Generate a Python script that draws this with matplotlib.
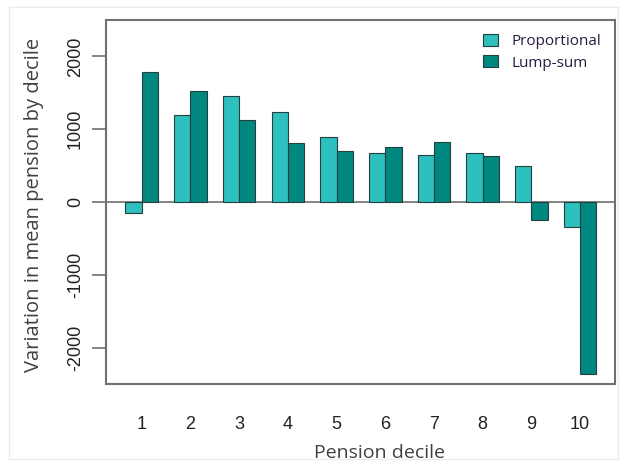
import numpy as np
import matplotlib
matplotlib.use("Agg")
import matplotlib.pyplot as plt
from matplotlib.patches import Rectangle

#--- Data ---#
deciles = [1, 2, 3, 4, 5, 6, 7, 8, 9, 10]
proportional = [-150, 1190, 1460, 1235, 900, 680, 645, 670, 500, -340]
lump_sum = [1790, 1530, 1130, 815, 695, 750, 820, 635, -250, -2360]
yticks = [-2000, -1000, 0, 1000, 2000]

#--- Styling ---#
prop_color = '#2EBFBF'
lump_color = '#00877F'
edge_color = '#253F3F'
axis_color = '#707070'
text_color = '#404040'

fig = plt.figure(figsize=(6.24, 4.66), dpi=100)
ax = fig.add_axes([0.170, 0.176, 0.816, 0.781])

# faint border around the whole picture
fig.patches.append(Rectangle((0.015, 0.015), 0.975, 0.97, transform=fig.transFigure,
                             fill=False, edgecolor='#EBEBEB', lw=1))

x = np.arange(len(deciles)) + 1
w = 1 / 3
ax.bar(x - w / 2, proportional, width=w, color=prop_color, edgecolor=edge_color,
       lw=0.8, label='Proportional', zorder=3)
ax.bar(x + w / 2, lump_sum, width=w, color=lump_color, edgecolor=edge_color,
       lw=0.8, label='Lump-sum', zorder=3)

ax.axhline(0, color=axis_color, lw=1.2, zorder=2)

ax.set_xlim(0.27, 10.72)
ax.set_ylim(-2500, 2500)

for s in ax.spines.values():
    s.set_color(axis_color)
    s.set_linewidth(1.5)

ax.set_xticks(x)
ax.set_xticklabels([str(d) for d in deciles], fontsize=13, color='#222222',
                   family='Liberation Sans')
ax.tick_params(axis='x', length=0, pad=23)

ax.set_yticks(yticks)
ax.set_yticklabels([str(t) for t in yticks], fontsize=13, color='#222222',
                   family='Liberation Sans', rotation=90, va='center')
ax.tick_params(axis='y', length=10, width=1.2, color=axis_color, pad=6)

fig.text(0.055, 0.56, 'Variation in mean pension by decile', rotation=90,
         ha='center', va='center', fontsize=14.5, color=text_color, family='Open Sans')
fig.text(0.608, 0.028, 'Pension decile', ha='center', va='center',
         fontsize=14, color=text_color, family='Open Sans')

leg = ax.legend(loc='upper right', frameon=False,
                prop={'family': 'Open Sans', 'size': 11},
                handlelength=1.0, handleheight=0.85, handletextpad=0.9,
                labelspacing=0.4, borderaxespad=0.5)
for t in leg.get_texts():
    t.set_color('#2A1A40')

fig.savefig('out.png', dpi=100)
